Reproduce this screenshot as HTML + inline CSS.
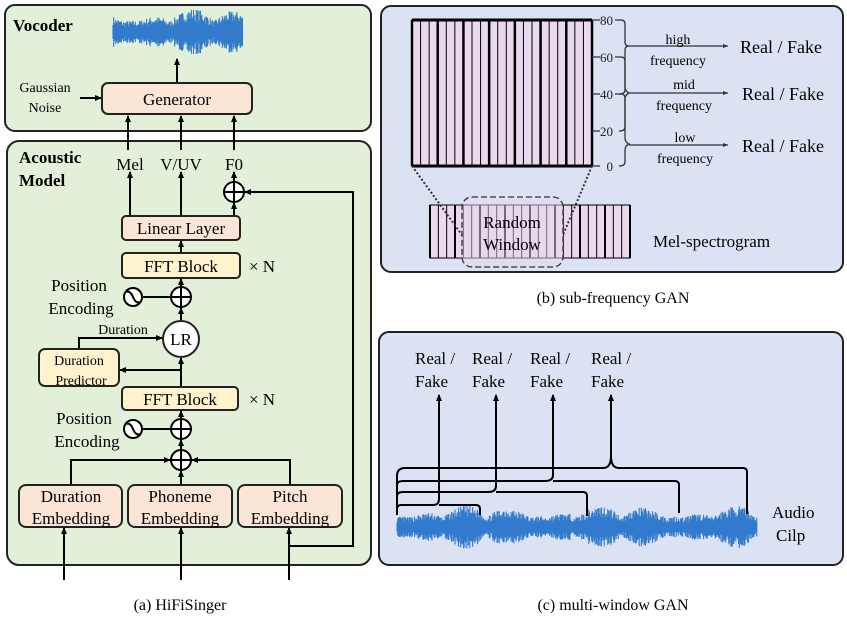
<!DOCTYPE html>
<html><head><meta charset="utf-8"><style>
body{margin:0;background:#fff}
svg{display:block}
text{font-family:"Liberation Serif","Times New Roman",serif}
</style></head><body>
<svg id="s" width="847" height="622" viewBox="0 0 847 622" font-family="Liberation Serif, serif">
<defs>
<marker id="a" markerWidth="8" markerHeight="8" refX="6" refY="4" orient="auto" markerUnits="userSpaceOnUse"><path d="M0,1 L7,4 L0,7 z" fill="#000"/></marker>
<marker id="b" markerWidth="6" markerHeight="6" refX="5" refY="3" orient="auto" markerUnits="userSpaceOnUse"><path d="M0,1 L5,3 L0,5 z" fill="#333"/></marker>
</defs>
<!-- panel a -->
<rect x="5" y="5" width="366" height="126" rx="10" fill="#e2efd9" stroke="#222" stroke-width="2"/>
<rect x="7" y="141" width="364" height="424" rx="12" fill="#e2efd9" stroke="#222" stroke-width="2"/>
<text x="13" y="31" font-size="17" font-weight="bold">Vocoder</text>
<text x="19" y="163" font-size="17" font-weight="bold">Acoustic</text>
<text x="19" y="186" font-size="17" font-weight="bold">Model</text>
<g id="wv1"></g>
<g stroke="#000" stroke-width="2" fill="none">
<line x1="177" y1="83" x2="177" y2="59" marker-end="url(#a)"/>
<line x1="80" y1="98" x2="101" y2="98" marker-end="url(#a)"/>
<line x1="128" y1="150" x2="128" y2="116" marker-end="url(#a)"/>
<line x1="181" y1="150" x2="181" y2="116" marker-end="url(#a)"/>
<line x1="234" y1="150" x2="234" y2="116" marker-end="url(#a)"/>
<line x1="130" y1="216" x2="130" y2="172" marker-end="url(#a)"/>
<line x1="181" y1="216" x2="181" y2="172" marker-end="url(#a)"/>
<line x1="234" y1="216" x2="234" y2="203" marker-end="url(#a)"/>
<line x1="234" y1="182" x2="234" y2="172" marker-end="url(#a)"/>
<polyline points="290,546 353,546 353,192 245,192" marker-end="url(#a)"/>
<line x1="181" y1="253" x2="181" y2="241" marker-end="url(#a)"/>
<line x1="181" y1="287" x2="181" y2="279" marker-end="url(#a)"/>
<line x1="181" y1="321" x2="181" y2="308" marker-end="url(#a)"/>
<line x1="142" y1="297" x2="171" y2="297"/>
<polyline points="79,349 79,338 162,338" marker-end="url(#a)"/>
<line x1="181" y1="387" x2="181" y2="358" marker-end="url(#a)"/>
<line x1="181" y1="370" x2="120" y2="370" marker-end="url(#a)"/>
<line x1="181" y1="419" x2="181" y2="411" marker-end="url(#a)"/>
<line x1="142" y1="429" x2="171" y2="429"/>
<line x1="181" y1="450" x2="181" y2="440" marker-end="url(#a)"/>
<polyline points="71,485 71,460 170,460" marker-end="url(#a)"/>
<polyline points="290,485 290,460 192,460" marker-end="url(#a)"/>
<line x1="181" y1="485" x2="181" y2="471" marker-end="url(#a)"/>
<line x1="64" y1="580" x2="64" y2="528" marker-end="url(#a)"/>
<line x1="181" y1="580" x2="181" y2="528" marker-end="url(#a)"/>
<line x1="289" y1="580" x2="289" y2="528" marker-end="url(#a)"/>
</g>
<g stroke="#222" stroke-width="2">
<rect x="102" y="83" width="150" height="31" rx="6" fill="#fbe5d6"/>
<rect x="122" y="216" width="118" height="24" rx="4" fill="#fbe5d6"/>
<rect x="122" y="253" width="118" height="25" rx="4" fill="#fff2cc"/>
<rect x="39" y="349" width="80" height="37" rx="6" fill="#fff2cc"/>
<rect x="122" y="387" width="116" height="23" rx="4" fill="#fff2cc"/>
<rect x="19" y="485" width="103" height="42" rx="7" fill="#fbe5d6"/>
<rect x="128" y="485" width="104" height="42" rx="7" fill="#fbe5d6"/>
<rect x="238" y="485" width="104" height="42" rx="7" fill="#fbe5d6"/>
<circle cx="181" cy="339" r="18" fill="#fff"/>
</g>
<g stroke="#000" stroke-width="2" fill="#fff">
<circle cx="234" cy="192" r="10"/><path d="M224,192h20M234,182v20"/>
<circle cx="181" cy="297" r="10"/><path d="M171,297h20M181,287v20"/>
<circle cx="181" cy="429" r="10"/><path d="M171,429h20M181,419v20"/>
<circle cx="181" cy="460" r="10"/><path d="M171,460h20M181,450v20"/>
<circle cx="133" cy="297" r="9"/><path d="M126,292 q4,-2 7,5 q3,7 7,5" fill="none"/>
<circle cx="133" cy="429" r="9"/><path d="M126,424 q4,-2 7,5 q3,7 7,5" fill="none"/>
</g>
<g font-size="17" text-anchor="middle">
<text x="45" y="92" font-size="14">Gaussian</text><text x="45" y="112" font-size="14">Noise</text>
<text x="177" y="105">Generator</text>
<text x="130" y="170">Mel</text><text x="181" y="170">V/UV</text><text x="234" y="170">F0</text>
<text x="181" y="234">Linear Layer</text>
<text x="181" y="272">FFT Block</text><text x="262" y="272">× N</text>
<text x="79" y="291">Position</text><text x="81" y="314">Encoding</text>
<text x="123" y="334" font-size="14">Duration</text>
<text x="181" y="345">LR</text>
<text x="79" y="365" font-size="14">Duration</text><text x="81" y="385" font-size="14">Predictor</text>
<text x="180" y="405">FFT Block</text><text x="262" y="405">× N</text>
<text x="84" y="424">Position</text><text x="87" y="447">Encoding</text>
<text x="71" y="502">Duration</text><text x="71" y="524">Embedding</text>
<text x="180" y="502">Phoneme</text><text x="180" y="524">Embedding</text>
<text x="290" y="502">Pitch</text><text x="290" y="524">Embedding</text>
<text x="180" y="610" font-size="16">(a) HiFiSinger</text>
<text x="613" y="303" font-size="16">(b) sub-frequency GAN</text>
<text x="613" y="610" font-size="16">(c) multi-window GAN</text>
</g>
<!-- panel b -->
<rect x="381" y="6" width="462" height="266" rx="10" fill="#dae2f3" stroke="#222" stroke-width="2"/>
<g id="spec"></g>
<g stroke="#333" stroke-width="1.3" fill="none">
<path d="M592,20h8M592,57h8M592,94h8M592,131h8M592,166h8"/>
<path d="M615,20h6q4,0 4,4v18q0,4 4,4q-4,0 -4,4v40q0,4 -6,4"/>
<path d="M615,57h6q4,0 4,4v26q0,4 4,6q-4,2 -4,6v28q0,4 -6,4"/>
<path d="M615,94h6q4,0 4,4v40q0,4 4,6q-4,2 -4,6v12q0,4 -6,4"/>
<line x1="629" y1="46" x2="728" y2="46" marker-end="url(#b)"/>
<line x1="629" y1="93" x2="728" y2="93" marker-end="url(#b)"/>
<line x1="629" y1="145" x2="728" y2="145" marker-end="url(#b)"/>
<line x1="412" y1="166" x2="462" y2="235" stroke-dasharray="2,2" stroke-width="2"/>
<line x1="592" y1="166" x2="563" y2="235" stroke-dasharray="2,2" stroke-width="2"/>
<rect x="462" y="197" width="101" height="70" rx="10" stroke-dasharray="6,3" fill="#e4d8ec" fill-opacity="0.5"/>
</g>
<g font-size="13" text-anchor="end" fill="#222">
<text x="613" y="25">80</text><text x="613" y="62">60</text><text x="613" y="99">40</text><text x="613" y="136">20</text><text x="613" y="171">0</text>
</g>
<g font-size="14" text-anchor="middle">
<text x="678" y="44">high</text><text x="678" y="65">frequency</text>
<text x="684" y="89">mid</text><text x="684" y="110">frequency</text>
<text x="685" y="142">low</text><text x="685" y="163">frequency</text>
</g>
<g font-size="18">
<text x="740" y="53">Real / Fake</text><text x="742" y="100">Real / Fake</text><text x="742" y="152">Real / Fake</text>
<text x="653" y="247" font-size="17">Mel-spectrogram</text>
<text x="512" y="228" text-anchor="middle" font-size="17">Random</text><text x="512" y="250" text-anchor="middle" font-size="17">Window</text>
</g>
<!-- panel c -->
<rect x="379" y="332" width="464" height="233" rx="10" fill="#dae2f3" stroke="#222" stroke-width="2"/>
<g id="wv2"></g>
<g stroke="#000" stroke-width="2" fill="none">
<path d="M397,515v-6q0,-4 4,-4h32q6,0 6,-6v-104" marker-end="url(#a)"/>
<path d="M439,505q0,-0 6,0h31q4,0 4,4v6"/>
<path d="M397,510v-14q0,-4 6,-4h85q8,0 8,-6v-91" marker-end="url(#a)"/>
<path d="M496,492q0,0 8,0h79q4,0 4,4v20"/>
<path d="M397,505v-20q0,-4 6,-4h142q8,0 8,-6v-80" marker-end="url(#a)"/>
<path d="M553,481q0,0 8,0h114q4,0 4,4v28"/>
<path d="M397,500v-24q0,-8 8,-8h198q8,0 8,-12v-61" marker-end="url(#a)"/>
<path d="M611,456q0,12 8,12h124q4,0 4,4v42"/>
</g>
<g font-size="17">
<text x="415" y="364">Real /</text><text x="415" y="387">Fake</text>
<text x="472" y="364">Real /</text><text x="472" y="387">Fake</text>
<text x="530" y="364">Real /</text><text x="530" y="387">Fake</text>
<text x="591" y="364">Real /</text><text x="591" y="387">Fake</text>
<text x="772" y="518">Audio</text><text x="776" y="541">Cilp</text>
</g>
</svg>
<script>
var NS="http://www.w3.org/2000/svg";
function rnd(seed){return function(){seed=(seed*16807)%2147483647;return seed/2147483647;};}
function wave(id,x0,x1,cy,amp,seed){
 var g=document.getElementById(id),r=rnd(seed),d="";
 for(var x=x0;x<=x1;x+=0.7){
  var env=0.45+0.55*Math.abs(Math.sin(x*0.07+seed))*Math.abs(Math.sin(x*0.023));
  var a=amp*env*(0.45+0.55*r());
  d+="M"+x.toFixed(1)+","+(cy-a).toFixed(1)+"v"+(2*a).toFixed(1);
 }
 var p=document.createElementNS(NS,"path");p.setAttribute("d",d);
 p.setAttribute("stroke","#1f6fc9");p.setAttribute("stroke-width","1.1");p.setAttribute("opacity","0.9");g.appendChild(p);
}
wave("wv1",113,243,32,24,7);
wave("wv2",397,757,527,22,13);
function spec(x0,y0,w,h,n,thick){
 var g=document.getElementById("spec");
 var r=document.createElementNS(NS,"rect");
 r.setAttribute("x",x0);r.setAttribute("y",y0);r.setAttribute("width",w);r.setAttribute("height",h);
 r.setAttribute("fill","#ead9ee");r.setAttribute("stroke","#000");r.setAttribute("stroke-width","1");g.appendChild(r);
 for(var i=0;i<=n;i++){
  var l=document.createElementNS(NS,"line"),x=x0+i*w/n;
  l.setAttribute("x1",x);l.setAttribute("x2",x);l.setAttribute("y1",y0);l.setAttribute("y2",y0+h);
  l.setAttribute("stroke","#000");l.setAttribute("stroke-width",(i%3==0)?thick:1);g.appendChild(l);
 }
}
spec(412,20,180,146,21,2.5);
spec(430,205,200,53,24,2);
var s=document.getElementById("spec");
var t=document.createElementNS(NS,"path");t.setAttribute("d","M412,20h180M412,166h180");t.setAttribute("stroke","#000");t.setAttribute("stroke-width","3");s.appendChild(t);
</script>
</body></html>
